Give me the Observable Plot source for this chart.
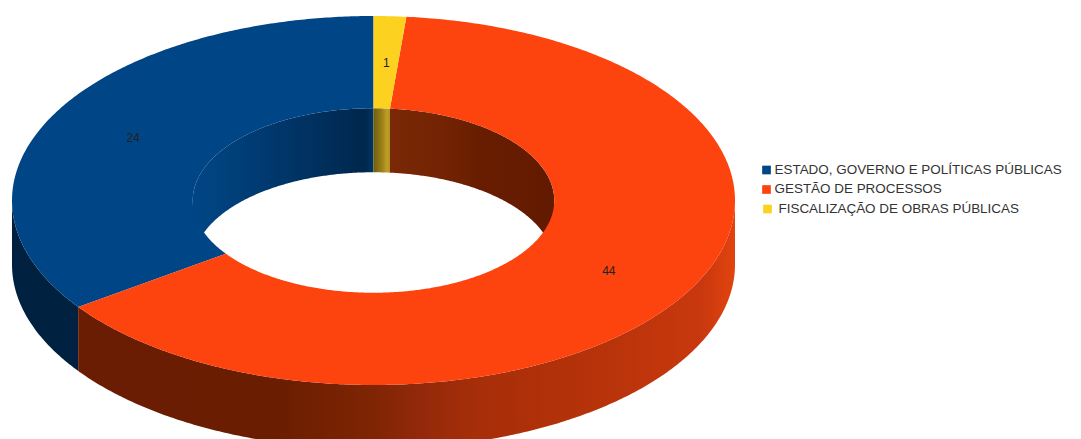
<!DOCTYPE html>
<html>
<head>
<meta charset="utf-8">
<script src="https://cdn.jsdelivr.net/npm/d3@7"></script>
<script src="https://cdn.jsdelivr.net/npm/@observablehq/plot@0.6"></script>
<style>
  html, body { margin: 0; padding: 0; background: #fff; overflow: hidden; }
  svg { display: block; }
</style>
</head>
<body>
<div id="chart"></div>
<script>
// Survey counts per subject area
const categories = [
  "ESTADO, GOVERNO E POLÍTICAS PÚBLICAS",
  "GESTÃO DE PROCESSOS",
  "FISCALIZAÇÃO DE OBRAS PÚBLICAS"
];
const counts = [24, 44, 1];
const sliceColors = ["#004586", "#fd430e", "#fcd120"];

// Ring proportions, as fractions of the outer radius
const holeRatio = 0.5;
const labelRatio = 0.75;
const wallDepth = 0.347;   // thickness of the ring in y units

// Side wall shading: [offset across the wall, colour]
const outerShades = [
  [[0, "#00203f"], [1, "#00213f"]],
  [[0, "#6a1d02"], [0.3, "#6a1d01"], [0.45, "#7f2504"], [0.52, "#92290a"],
   [0.6, "#a52e09"], [0.8, "#b8330a"], [0.95, "#c9380e"], [1, "#e2430f"]]
];
const innerShades = [
  [[0, "#004586"], [0.12, "#00437f"], [0.35, "#003b72"], [0.65, "#003160"], [0.95, "#00274c"], [1, "#003564"]],
  [[0, "#7a2806"], [0.3, "#742404"], [0.55, "#681d00"], [1, "#621a00"]],
  [[0, "#6e5d10"], [0.5, "#9a8018"], [0.85, "#c0a025"], [1, "#a68a1e"]]
];

// Slices run counter-clockwise from twelve o'clock
const total = d3.sum(counts);
let acc = 0;
const slices = categories.map((category, i) => {
  const start = 90 + acc / total * 360;
  acc += counts[i];
  return {i, category, count: counts[i], start, end: 90 + acc / total * 360};
});

const rad = (a) => a * Math.PI / 180;
const sweep = (a0, a1) => [...d3.range(a0, a1, 0.5), a1];

// Top face of each slice: a strip between the outer and inner rims
const faces = slices.flatMap((s) =>
  sweep(s.start, s.end).map((a) => ({
    category: s.category,
    x1: Math.cos(rad(a)),
    y1: Math.sin(rad(a)),
    x2: holeRatio * Math.cos(rad(a)),
    y2: holeRatio * Math.sin(rad(a))
  }))
);

// A wall hangs down from a rim; only the part facing the viewer is drawn
function wall(slice, radius, from, to) {
  const a0 = Math.max(slice.start, from);
  const a1 = Math.min(slice.end, to);
  if (a0 >= a1) return [];
  return sweep(a0, a1).map((a) => ({
    x: radius * Math.cos(rad(a)),
    y1: radius * Math.sin(rad(a)),
    y2: radius * Math.sin(rad(a)) - wallDepth
  }));
}

const gradients = [];
function shade(stops) {
  const id = `wall-shade-${gradients.length}`;
  gradients.push({id, stops});
  return `url(#${id})`;
}

const wallMarks = [];
for (const s of slices) {
  if (s.i < outerShades.length) {
    const pts = wall(s, 1, 180, 360);
    if (pts.length) wallMarks.push(Plot.areaY(pts, {x: "x", y1: "y1", y2: "y2", fill: shade(outerShades[s.i])}));
  }
}
for (const s of slices) {
  for (const [from, to] of [[0, 180], [360, 540]]) {
    const pts = wall(s, holeRatio, from, to);
    if (pts.length) wallMarks.push(Plot.areaY(pts, {x: "x", y1: "y1", y2: "y2", fill: shade(innerShades[s.i])}));
  }
}

// Value labels sit mid-ring at each slice's middle angle
const labels = slices.map((s) => {
  const a = rad((s.start + s.end) / 2);
  return {x: labelRatio * Math.cos(a), y: labelRatio * Math.sin(a), text: String(s.count)};
});

const defsMark = () => {
  const defs = d3.create("svg:defs");
  for (const g of gradients) {
    const lg = defs.append("linearGradient").attr("id", g.id).attr("x1", 0).attr("x2", 1).attr("y1", 0).attr("y2", 0);
    for (const [offset, color] of g.stops) {
      lg.append("stop").attr("offset", offset).attr("stop-color", color);
    }
  }
  return defs.node();
};

// Legend entries, offset from the frame's top-left corner
const legendSwatchX = [766, 766, 767];
const legendTextX = [774, 774, 778];
const legendY = [169, 188.5, 208];
const legendMarks = categories.flatMap((c, i) => [
  Plot.dot([c], {fill: (d) => d, symbol: "square", r: 4.9, frameAnchor: "top-left", dx: legendSwatchX[i], dy: legendY[i] + 0.5}),
  Plot.text([c], {text: (d) => d, frameAnchor: "top-left", textAnchor: "start", lineAnchor: "middle",
    dx: legendTextX[i], dy: legendY[i], fontSize: 13.45, fill: "#333"})
]);

const chart = Plot.plot({
  width: 1081,
  height: 439,
  margin: 0,
  style: {background: "#fff", fontFamily: "'Liberation Sans', Arial, sans-serif", overflow: "hidden"},
  x: {axis: null, domain: [-1, 1], range: [12, 735]},
  y: {axis: null, domain: [-1, 1], range: [385, 16]},
  color: {domain: categories, range: sliceColors},
  marks: [
    defsMark,
    ...wallMarks,
    Plot.area(faces, {x1: "x1", y1: "y1", x2: "x2", y2: "y2", fill: "category", z: "category"}),
    Plot.text(labels, {x: "x", y: "y", text: "text", dy: 0.7, fontSize: 12, fill: "#222"}),
    ...legendMarks
  ]
});
document.getElementById("chart").append(chart);
</script>
</body>
</html>
